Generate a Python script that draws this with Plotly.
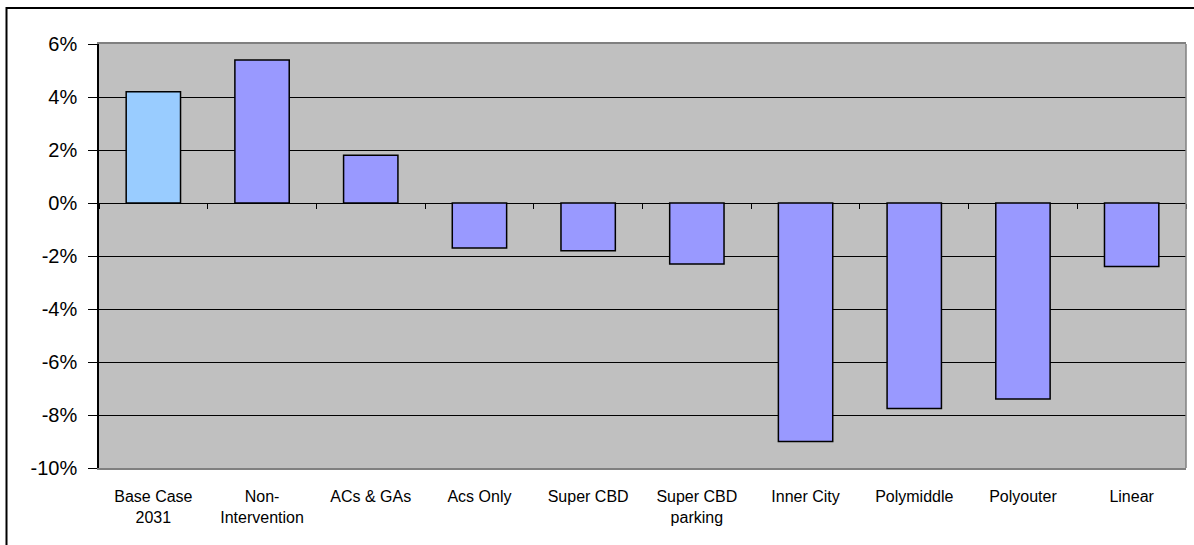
import plotly.graph_objects as go

# Change in indicator by scenario (percent)
scenarios = ["Base Case<br>2031", "Non-<br>Intervention", "ACs & GAs", "Acs Only",
             "Super CBD", "Super CBD<br>parking", "Inner City", "Polymiddle",
             "Polyouter", "Linear"]
change_pct = [4.2, 5.4, 1.8, -1.7, -1.8, -2.3, -9.0, -7.75, -7.4, -2.4]

y_ticks = [-10, -8, -6, -4, -2, 0, 2, 4, 6]
y_tick_text = ["-10%", "-8%", "-6%", "-4%", "-2%", "0%", "2%", "4%", "6%"]
inner_grid = [-8, -6, -4, -2, 2, 4]

bar_colors = ["#99CCFF"] + ["#9999FF"] * (len(scenarios) - 1)

W, H = 1194, 545
L, R, T, B = 99, 8, 44, 77
pw, ph = W - L - R, H - T - B

fig = go.Figure()
fig.add_trace(go.Bar(
    x=list(range(len(scenarios))), y=change_pct,
    marker=dict(color=bar_colors, line=dict(color="black", width=1.5)),
    width=0.5, hoverinfo="skip", showlegend=False,
))
# carrier trace for the overlay axis that draws the category ticks on the zero line
fig.add_trace(go.Scatter(x=[None], y=[None], xaxis="x2", yaxis="y",
                         showlegend=False, hoverinfo="skip"))

font = "Liberation Sans, Arial, sans-serif"
fig.update_layout(
    width=W, height=H,
    margin=dict(l=L, r=R, t=T, b=B, autoexpand=False),
    paper_bgcolor="white", plot_bgcolor="#C0C0C0",
    bargap=0.5,
    font=dict(family=font, color="black"),
    xaxis=dict(
        range=[-0.5, len(scenarios) - 0.5],
        tickvals=list(range(len(scenarios))), ticktext=scenarios,
        showgrid=False, zeroline=False, ticks="",
        showline=True, linecolor="#808080", linewidth=1.5, mirror=True,
        tickfont=dict(size=16, family=font, color="black"),
        ticklabelstandoff=13,
    ),
    xaxis2=dict(
        overlaying="x", anchor="free", position=10 / 16,
        range=[-0.5, len(scenarios) - 0.5],
        tickvals=[i + 0.5 for i in range(-1, len(scenarios))],
        ticks="outside", ticklen=5, tickwidth=1, tickcolor="black",
        showticklabels=False, showgrid=False, zeroline=False, showline=False,
    ),
    yaxis=dict(
        range=[-10, 6], tickvals=y_ticks, ticktext=y_tick_text,
        showgrid=False,
        minor=dict(tickvals=inner_grid, showgrid=True, gridcolor="black",
                   gridwidth=1, ticks=""),
        zeroline=True, zerolinecolor="black", zerolinewidth=1,
        showline=True, linecolor="black", linewidth=1.5,
        ticks="outside", ticklen=9, tickwidth=1, tickcolor="black",
        tickfont=dict(size=20, family=font, color="black"),
        ticklabelstandoff=7,
    ),
    shapes=[
        # right edge of the plot frame
        dict(type="line", xref="paper", yref="paper", x0=1, x1=1, y0=0, y1=1,
             line=dict(color="#808080", width=1.5)),
        # outer chart border
        dict(type="rect", xref="paper", yref="paper",
             x0=(6.5 - L) / pw, x1=(W + 6 - L) / pw,
             y0=-(B + 6) / ph, y1=1 + (T - 8) / ph,
             line=dict(color="black", width=2)),
    ],
)

fig.write_html("out.html")
